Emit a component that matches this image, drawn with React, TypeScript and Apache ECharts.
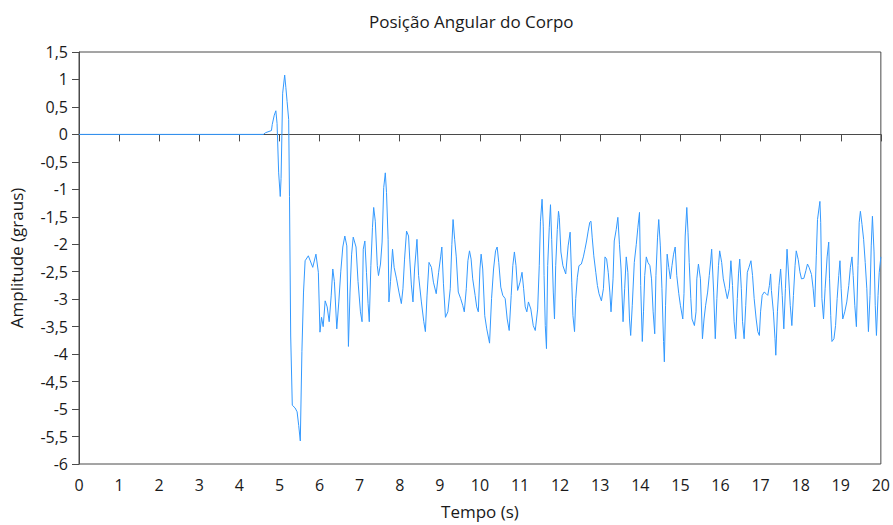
import React, { useEffect, useRef } from "react";
import * as echarts from "echarts";

const chartTitle = "Posição Angular do Corpo";
const xAxisName = "Tempo (s)";
const yAxisName = "Amplitude (graus)";

const time: number[] = [
  0, 4.6, 4.65, 4.8, 4.82, 4.87, 4.91, 4.94, 4.98, 5.02, 5.04, 5.08, 5.13, 5.16, 5.19, 5.23, 5.25, 5.28, 5.32, 5.39, 5.44, 5.48, 5.52, 5.56, 5.6, 5.64, 5.72, 5.83, 5.91, 5.97,
  6.01, 6.05, 6.09, 6.14, 6.19, 6.24, 6.29, 6.33, 6.37, 6.43, 6.48, 6.53, 6.58, 6.63, 6.68, 6.72, 6.76, 6.8, 6.84, 6.91, 6.96,
  7.02, 7.06, 7.09, 7.13, 7.17, 7.21, 7.24, 7.28, 7.32, 7.35, 7.39, 7.44, 7.47, 7.52, 7.56, 7.6, 7.64, 7.67, 7.71, 7.73, 7.77, 7.82, 7.86, 7.92, 7.98,
  8.04, 8.08, 8.12, 8.17, 8.22, 8.25, 8.29, 8.33, 8.37, 8.43, 8.47, 8.54, 8.6, 8.64, 8.68, 8.73, 8.79, 8.84, 8.91, 8.97,
  9.02, 9.05, 9.09, 9.14, 9.2, 9.26, 9.3, 9.33, 9.37, 9.41, 9.46, 9.52, 9.57, 9.61, 9.66, 9.7, 9.74, 9.78, 9.82, 9.88, 9.92, 9.96,
  10.0, 10.03, 10.07, 10.12, 10.17, 10.24, 10.29, 10.34, 10.39, 10.43, 10.47, 10.52, 10.57, 10.63, 10.68, 10.73, 10.78, 10.82, 10.86, 10.9, 10.94,
  11.0, 11.05, 11.09, 11.13, 11.17, 11.21, 11.27, 11.33, 11.38, 11.44, 11.48, 11.51, 11.55, 11.58, 11.6, 11.63, 11.66, 11.69, 11.73, 11.76, 11.79, 11.83, 11.86, 11.89, 11.93, 11.96, 11.98,
  12.02, 12.07, 12.14, 12.2, 12.25, 12.29, 12.32, 12.36, 12.39, 12.43, 12.47, 12.53, 12.58, 12.62, 12.66, 12.7, 12.74, 12.77, 12.8, 12.84, 12.89, 12.93, 12.97,
  13.03, 13.08, 13.12, 13.16, 13.2, 13.24, 13.27, 13.32, 13.35, 13.4, 13.44, 13.48, 13.52, 13.57, 13.61, 13.65, 13.69, 13.73, 13.76, 13.8, 13.85, 13.9, 13.94, 13.98,
  14.01, 14.05, 14.08, 14.11, 14.15, 14.19, 14.24, 14.28, 14.32, 14.36, 14.39, 14.43, 14.46, 14.5, 14.54, 14.58, 14.6, 14.63, 14.67, 14.71, 14.75, 14.79, 14.83, 14.87, 14.91, 14.96,
  15.0, 15.06, 15.09, 15.12, 15.16, 15.19, 15.22, 15.26, 15.29, 15.35, 15.39, 15.41, 15.45, 15.5, 15.52, 15.55, 15.59, 15.63, 15.68, 15.72, 15.76, 15.78, 15.83, 15.87, 15.91, 15.95, 15.98,
  16.03, 16.07, 16.12, 16.17, 16.22, 16.26, 16.3, 16.34, 16.38, 16.42, 16.45, 16.48, 16.52, 16.55, 16.59, 16.63, 16.67, 16.71, 16.76, 16.8, 16.84, 16.89, 16.93, 16.97,
  17.0, 17.04, 17.09, 17.14, 17.18, 17.22, 17.25, 17.27, 17.32, 17.36, 17.38, 17.42, 17.46, 17.5, 17.54, 17.58, 17.62, 17.66, 17.69, 17.74, 17.78, 17.82, 17.86, 17.89, 17.94, 17.98,
  18.02, 18.08, 18.13, 18.17, 18.21, 18.27, 18.31, 18.35, 18.39, 18.42, 18.48, 18.5, 18.53, 18.57, 18.61, 18.66, 18.7, 18.72, 18.75, 18.78, 18.83, 18.87, 18.91, 18.95, 18.98,
  19.01, 19.05, 19.1, 19.15, 19.2, 19.24, 19.28, 19.31, 19.35, 19.39, 19.43, 19.46, 19.49, 19.53, 19.57, 19.61, 19.65, 19.69, 19.73, 19.76, 19.79, 19.83, 19.86, 19.89, 19.93, 19.96, 20.0,
];

const amplitude: number[] = [
  0, 0, 0.03, 0.07, 0.18, 0.35, 0.43, 0.2, -0.7, -1.13, -0.8, 0.75, 1.08, 0.85, 0.6, 0.27, -1.13, -3.67, -4.93, -4.98, -5.05, -5.3, -5.58, -3.95, -2.87, -2.3, -2.21, -2.42, -2.18, -2.51,
  -3.6, -3.33, -3.5, -3.03, -3.14, -3.41, -2.94, -2.45, -2.68, -3.54, -3.05, -2.49, -2.05, -1.85, -2.03, -3.86, -2.87, -2.18, -1.87, -2.05, -2.68,
  -3.23, -3.41, -2.09, -1.94, -2.51, -3.08, -3.41, -2.39, -1.69, -1.33, -1.58, -2.39, -2.57, -2.36, -1.96, -0.97, -0.7, -1.06, -1.91, -3.05, -2.68, -2.09, -2.42, -2.63, -2.87,
  -3.08, -2.81, -2.27, -1.76, -1.85, -2.27, -2.74, -3.05, -2.45, -1.91, -2.57, -3.05, -3.41, -3.59, -2.94, -2.33, -2.42, -2.69, -2.9, -2.51,
  -2.23, -2.05, -2.72, -3.33, -3.23, -2.81, -2.0, -1.55, -1.91, -2.23, -2.87, -2.99, -3.11, -3.23, -2.81, -2.3, -2.12, -2.27, -2.63, -2.93, -3.14, -3.23,
  -2.45, -2.18, -2.45, -3.3, -3.54, -3.8, -2.99, -2.45, -2.12, -2.05, -2.33, -2.78, -2.93, -2.99, -3.36, -3.57, -2.93, -2.39, -2.14, -2.39, -2.84,
  -2.69, -2.51, -2.81, -3.14, -3.23, -3.05, -3.18, -3.48, -3.57, -3.18, -2.39, -1.58, -1.18, -1.67, -2.57, -3.48, -3.9, -2.39, -1.69, -1.28, -1.91, -2.87, -3.36, -2.39, -1.73, -1.4, -1.51,
  -2.14, -2.39, -2.54, -2.03, -1.78, -2.69, -3.3, -3.59, -2.99, -2.6, -2.39, -2.36, -2.23, -2.09, -1.94, -1.76, -1.6, -1.58, -1.87, -2.21, -2.51, -2.75, -2.9,
  -3.03, -2.81, -2.23, -2.27, -2.51, -2.87, -3.23, -2.63, -1.94, -1.73, -1.51, -2.0, -2.45, -3.41, -2.81, -2.23, -2.51, -3.36, -3.66, -3.11, -2.33, -2.0, -1.69, -1.42,
  -2.75, -3.77, -3.23, -2.57, -2.23, -2.33, -2.39, -2.63, -3.23, -3.63, -2.57, -1.87, -1.55, -2.03, -2.81, -3.77, -4.14, -3.11, -2.18, -2.42, -2.63, -2.39, -2.18, -2.05, -2.57, -2.9,
  -3.11, -3.36, -2.9, -1.85, -1.33, -1.78, -2.33, -2.99, -3.36, -3.48, -3.23, -2.63, -2.36, -2.63, -3.05, -3.72, -3.36, -3.11, -2.87, -2.57, -2.27, -2.09, -2.87, -3.72, -2.99, -2.39, -2.12,
  -2.33, -2.63, -2.81, -2.99, -2.81, -2.3, -2.75, -3.41, -3.72, -2.99, -2.54, -2.27, -2.81, -3.41, -3.72, -3.11, -2.51, -2.42, -2.3, -2.57, -2.99, -3.36, -3.59, -3.66,
  -3.23, -2.93, -2.87, -2.9, -2.93, -2.75, -2.54, -2.84, -3.23, -3.72, -4.02, -3.23, -2.75, -2.45, -2.93, -3.54, -2.81, -2.09, -2.45, -3.11, -3.48, -2.93, -2.39, -2.12, -2.28, -2.5,
  -2.63, -2.62, -2.48, -2.36, -2.42, -2.55, -2.8, -3.14, -2.21, -1.55, -1.22, -1.6, -2.99, -3.36, -2.81, -2.23, -1.96, -2.63, -3.3, -3.77, -3.72, -3.48, -2.99, -2.57, -2.3,
  -2.81, -3.36, -3.23, -3.05, -2.75, -2.42, -2.23, -2.57, -3.11, -3.5, -2.39, -1.6, -1.4, -1.64, -1.91, -2.33, -2.81, -3.59, -2.93, -2.03, -1.49, -2.14, -3.11, -3.66, -2.93, -2.51, -2.23,
];

const xMin = 0;
const xMax = 20;
const xStep = 1;
const yMin = -6;
const yMax = 1.5;
const yStep = 0.5;

const fmt = (v: number) => {
  const r = Math.round(v * 10) / 10;
  return String(r).replace(".", ",");
};

export default function App() {
  const ref = useRef<HTMLDivElement>(null);
  useEffect(() => {
    if (!ref.current) return;
    const chart = echarts.init(ref.current, null, { renderer: "svg" });
    const data = time.map((t, i) => [t, amplitude[i]]);
    const font = "'Open Sans', 'Noto Sans', sans-serif";
    chart.setOption({
      animation: false,
      backgroundColor: "#ffffff",
      title: {
        text: chartTitle,
        left: 364,
        top: 8,
        textStyle: { fontFamily: font, fontSize: 17, fontWeight: "normal", color: "#1a1a1a" },
      },
      grid: {
        left: 78,
        right: 10,
        top: 52,
        bottom: 59,
        show: true,
        borderColor: "#4a4a4a",
        borderWidth: 1,
        backgroundColor: "#ffffff",
      },
      xAxis: {
        type: "value",
        min: xMin,
        max: xMax,
        interval: xStep,
        name: xAxisName,
        nameLocation: "middle",
        nameGap: 39,
        nameTextStyle: { fontFamily: font, fontSize: 17, color: "#1a1a1a" },
        axisLine: { show: true, lineStyle: { color: "#4a4a4a", width: 1 } },
        axisTick: { show: true, length: 7, lineStyle: { color: "#4a4a4a" } },
        axisLabel: { fontFamily: font, fontSize: 16, color: "#1a1a1a", margin: 13, formatter: fmt },
        splitLine: { show: false },
      },
      yAxis: {
        type: "value",
        min: yMin,
        max: yMax,
        interval: yStep,
        name: yAxisName,
        nameLocation: "middle",
        nameRotate: 90,
        nameGap: 54,
        nameTextStyle: { fontFamily: font, fontSize: 17, color: "#1a1a1a" },
        axisLine: { show: true, lineStyle: { color: "#4a4a4a", width: 1 } },
        axisTick: { show: true, length: 7, lineStyle: { color: "#4a4a4a" } },
        axisLabel: { fontFamily: font, fontSize: 16, color: "#1a1a1a", margin: 11, formatter: fmt },
        splitLine: { show: false },
      },
      series: [
        {
          type: "line",
          data,
          showSymbol: false,
          symbol: "none",
          lineStyle: { color: "#3399ff", width: 1 },
          itemStyle: { color: "#3399ff" },
        },
      ],
    });
    return () => chart.dispose();
  }, []);
  return <div ref={ref} style={{ width: 893, height: 525, position: "absolute", left: 0, top: 0 }} />;
}
